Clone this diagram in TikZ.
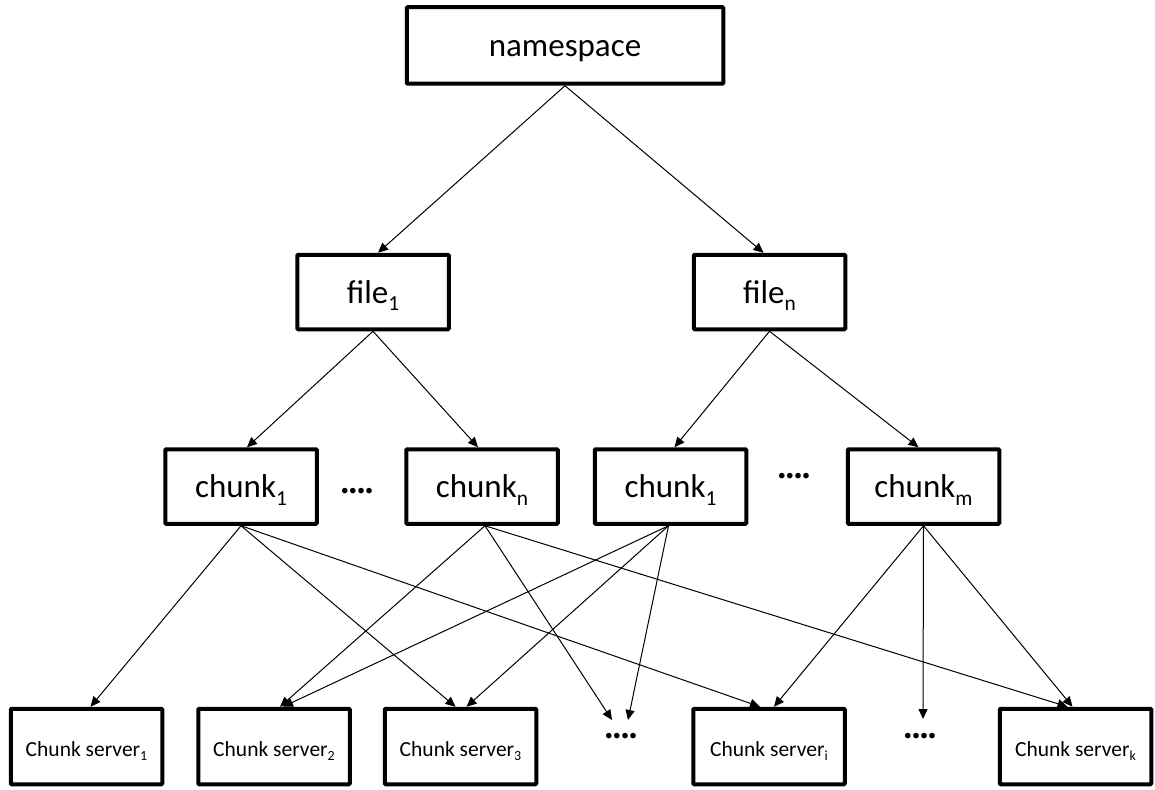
\documentclass[tikz,border=0pt]{standalone}
\usepackage{fontspec}
\usepackage{graphicx}
\setmainfont{Carlito}
\usetikzlibrary{arrows.meta}
% lowered, reduced index as in "chunk_1"
\newcommand\idx[1]{\raisebox{-0.22em}{\scalebox{0.65}{#1}}}
\begin{document}
\begin{tikzpicture}[x=1pt,y=-1pt,
  box/.style={draw, line width=4pt, inner sep=0pt, rounded corners=1pt, align=center},
  big/.style={box, font=\fontsize{33}{36}\selectfont, text height=31.4pt, text depth=8.9pt},
  mid/.style={big, minimum width=151.5pt, minimum height=74.5pt},
  srv/.style={box, minimum width=151.5pt, minimum height=75.5pt, font=\fontsize{21.5}{24}\selectfont,
              text height=22pt, text depth=3pt},
  link/.style={line width=1pt, -{Triangle[length=10pt,width=9pt]}},
  ellip/.style={inner sep=0pt, anchor=base, font=\bfseries\fontsize{30}{30}\selectfont}
]
\useasboundingbox (0,0) rectangle (1155,789);

% root
\node[big, minimum width=316.5pt, minimum height=76.5pt] (ns) at (565,45.5) {namespace};

% files
\node[mid] (f1) at (373,292)   {file\idx{1}};
\node[mid] (fn) at (769.5,292) {file\idx{n}};

% chunks
\node[mid] (c1a) at (241,486.5)   {chunk\idx{1}};
\node[mid] (cn)  at (482,486.5)   {chunk\idx{n}};
\node[mid] (c1b) at (670.5,486.5) {chunk\idx{1}};
\node[mid] (cm)  at (923.5,486.5) {chunk\idx{m}};
\node[ellip] (dA) at (357,499) {····};
\node[ellip] (dB) at (794,484) {····};

% chunk servers
\node[srv] (cs1) at (86.5,746.5)  {Chunk server\idx{1}};
\node[srv] (cs2) at (274,746.5)   {Chunk server\idx{2}};
\node[srv] (cs3) at (460.5,746.5) {Chunk server\idx{3}};
\node[srv] (csi) at (769,746.5)   {Chunk server\idx{i}};
\node[srv] (csk) at (1075.5,746.5){Chunk server\idx{k}};
\node[ellip] (dC) at (621,744) {····};
\node[ellip] (dD) at (920,744) {····};
\coordinate (dCl) at (612,720);
\coordinate (dCr) at (628,720);
\coordinate (dDt) at (923,719);

% namespace -> files
\draw[link] (ns.south) -- ([xshift=5pt]f1.north);
\draw[link] (ns.south) -- ([xshift=-6pt]fn.north);

% files -> chunks
\draw[link] (f1.south) -- ([xshift=6pt]c1a.north);
\draw[link] (f1.south) -- ([xshift=-4pt]cn.north);
\draw[link] (fn.south) -- ([xshift=4pt]c1b.north);
\draw[link] (fn.south) -- ([xshift=-5pt]cm.north);

% chunks -> servers
\draw[link] (c1a.south) -- ([xshift=4pt]cs1.north);
\draw[link] (c1a.south) -- ([xshift=-5pt]cs3.north);
\draw[link] (c1a.south) -- ([xshift=-9pt]csi.north);

\draw[link] ([xshift=3pt]cn.south) -- ([xshift=6pt]cs2.north);
\draw[link] ([xshift=3pt]cn.south) -- (dCl);
\draw[link] ([xshift=3pt]cn.south) -- ([xshift=-8pt]csk.north);

\draw[link] ([xshift=-2pt]c1b.south) -- ([xshift=9pt]cs2.north);
\draw[link] ([xshift=-2pt]c1b.south) -- ([xshift=6pt]cs3.north);
\draw[link] ([xshift=-2pt]c1b.south) -- (dCr);

\draw[link] (cm.south) -- ([xshift=5pt]csi.north);
\draw[link] (cm.south) -- (dDt);
\draw[link] (cm.south) -- ([xshift=-3pt]csk.north);
\end{tikzpicture}
\end{document}
